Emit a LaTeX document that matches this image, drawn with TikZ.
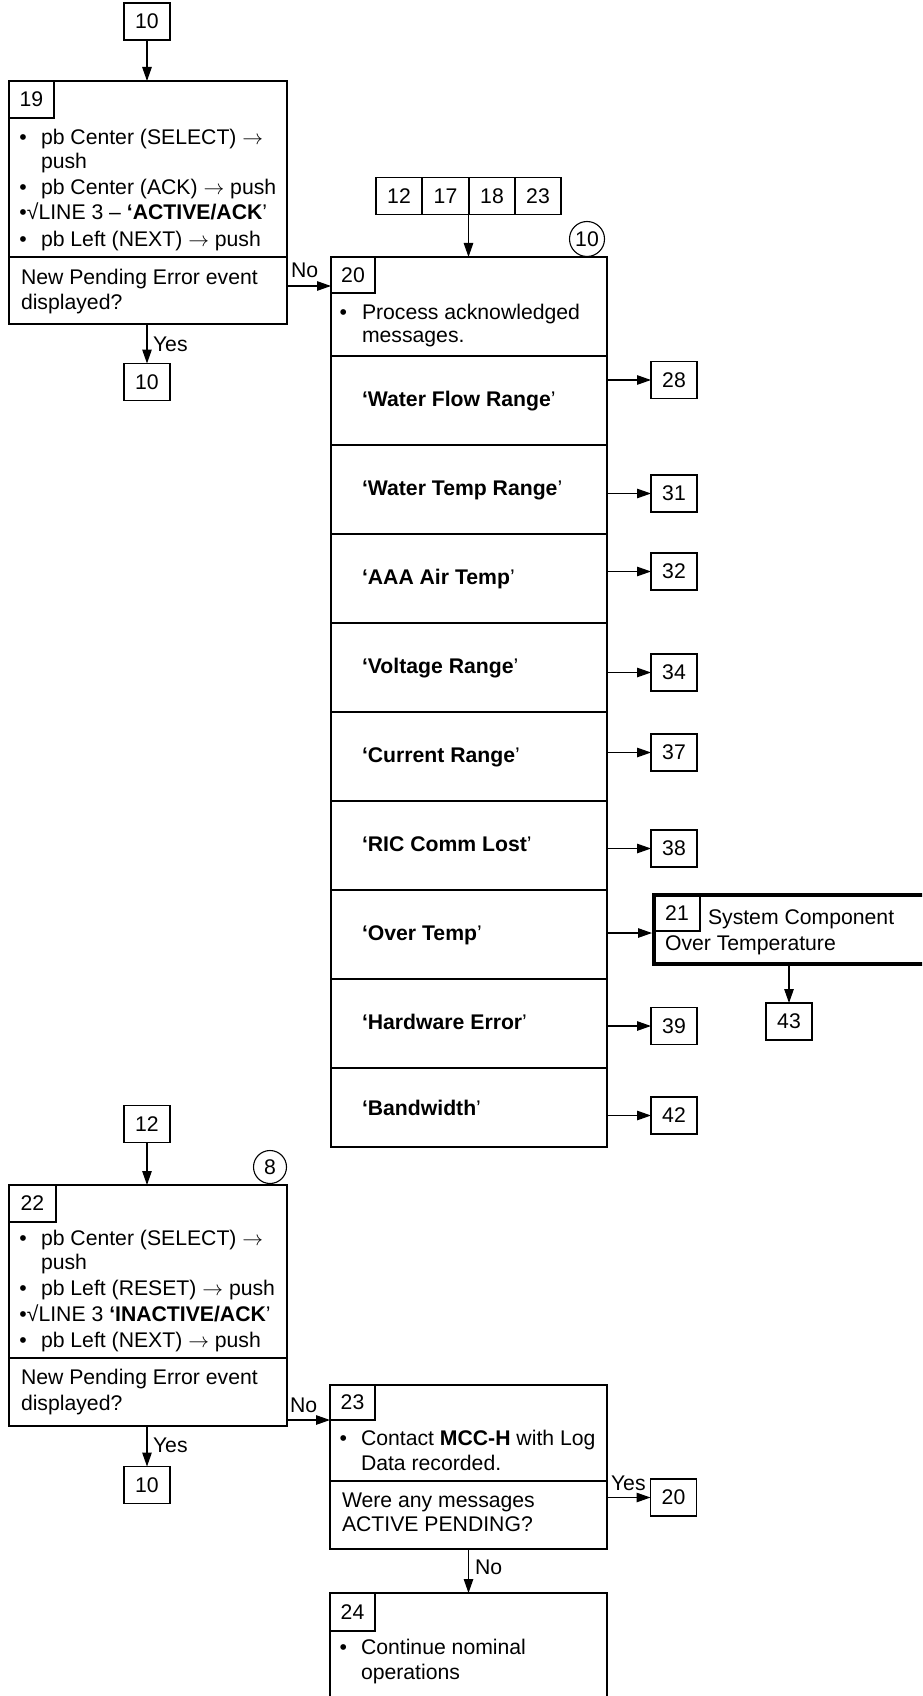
\documentclass[tikz,border=0pt]{standalone}
\usepackage{fontspec}
\setmainfont{Liberation Sans}
\usetikzlibrary{arrows.meta}
\begin{document}
\begin{tikzpicture}[x=1pt,y=-1pt,
  every node/.style={font=\fontsize{21.2}{25}\selectfont, inner sep=0pt, outer sep=0pt},
  bigbox/.style={draw, line width=1.4pt, anchor=north west},
  numbox/.style={draw, line width=1.1pt, anchor=north west},
  tgt/.style={draw, line width=1.1pt, minimum width=46pt, minimum height=37pt},
  txt/.style={anchor=mid west, yshift=-5pt},
  lbl/.style={anchor=mid west, yshift=-5pt},
  arr/.style={line width=1.2pt, -{Triangle[length=14pt,width=9.5pt]}},
  sep/.style={line width=1.3pt},
  circ/.style={draw, circle, line width=1.1pt, minimum size=35pt},
]
\useasboundingbox (0,0) rectangle (922,1696);
\begin{scope}
\clip (0,0) rectangle (922,1696);

% ---------- top-left block (19) ----------
\node[tgt] (n10a) at (147,21.5) {10};
\node[bigbox, minimum width=278pt, minimum height=243pt] (b19) at (9,81) {};
\node[numbox, minimum width=45pt, minimum height=37pt] (n19) at (9,81) {19};
\draw[sep] (9,257) -- (287,257);
\node[txt] (b19d1) at (19.5,137) {•};
\node[txt] (b19t1) at (41,137) {pb Center (SELECT) $\rightarrow$};
\node[txt] (b19t2) at (41,161) {push};
\node[txt] (b19d3) at (19.5,187) {•};
\node[txt] (b19t3) at (41,187) {pb Center (ACK) $\rightarrow$ push};
\node[txt] (b19t4) at (19.5,212) {•√LINE 3 – \textbf{‘ACTIVE/ACK}’};
\node[txt] (b19d5) at (19.5,239) {•};
\node[txt] (b19t5) at (41,239) {pb Left (NEXT) $\rightarrow$ push};
\node[txt] (b19q1) at (21,277) {New Pending Error event};
\node[txt] (b19q2) at (21,302) {displayed?};
\node[tgt] (n10b) at (147,382) {10};
\draw[arr] (n10a.south) -- (n10a.south |- b19.north);
\draw[arr] (n10b.north |- b19.south) -- (n10b.north);
\node[lbl] (y19) at (153,344) {Yes};
\coordinate (no19) at (287,286);
\node[lbl] (l19) at (291,270) {No};

% ---------- main block (20) ----------
\node[tgt] (s12) at (399,196) {12};
\node[tgt] (s17) at (445.5,196) {17};
\node[tgt] (s18) at (492,196) {18};
\node[tgt] (s23) at (538,196) {23};
\node[circ] (c10) at (587,239) {10};
\node[bigbox, minimum width=276pt, minimum height=890pt] (b20) at (331,257) {};
\node[numbox, minimum width=44pt, minimum height=36pt] (n20) at (331,257) {20};
\draw[arr] (s17.south east) -- (s17.south east |- b20.north);
\draw[arr] (no19) -- (no19 -| b20.west);
\node[txt] (b20d1) at (339.5,312) {•};
\node[txt] (b20t1) at (362,312) {Process acknowledged};
\node[txt] (b20t2) at (362,335) {messages.};
\foreach \yy in {356,445,534,623,712,801,890,979,1068}
  \draw[sep] (331,\yy) -- (607,\yy);
\node[txt] (r1) at (362,398.5) {\textbf{‘Water Flow Range}’};
\node[txt] (r2) at (362,487.5) {\textbf{‘Water Temp Range}’};
\node[txt] (r3) at (362,576.5) {\textbf{‘AAA Air Temp}’};
\node[txt] (r4) at (362,665.5) {\textbf{‘Voltage Range}’};
\node[txt] (r5) at (362,754.5) {\textbf{‘Current Range}’};
\node[txt] (r6) at (362,843.5) {\textbf{‘RIC Comm Lost}’};
\node[txt] (r7) at (362,932.5) {\textbf{‘Over Temp}’};
\node[txt] (r8) at (362,1021.5) {\textbf{‘Hardware Error}’};
\node[txt] (r9) at (362,1107.5) {\textbf{‘Bandwidth}’};

\node[tgt] (t28) at (674,380) {28};
\node[tgt] (t31) at (674,493.5) {31};
\node[tgt] (t32) at (674,571.5) {32};
\node[tgt] (t34) at (674,672.5) {34};
\node[tgt] (t37) at (674,752.5) {37};
\node[tgt] (t38) at (674,848.5) {38};
\node[tgt] (t39) at (674,1026) {39};
\node[tgt] (t42) at (674,1115.5) {42};
\foreach \t in {t28,t31,t32,t34,t37,t38,t39,t42}
  \draw[arr] (b20.east |- \t) -- (\t.west);

% box 21
\node[draw, line width=4pt, anchor=north west, minimum width=300pt, minimum height=69pt] (b21) at (654,894.5) {};
\node[numbox, minimum width=46pt, minimum height=36.5pt] (n21) at (654,894.5) {21};
\node[txt] (b21t1) at (708,917) {System Component};
\node[txt] (b21t2) at (665,943) {Over Temperature};
\draw[arr] (b20.east |- 0,933) -- (652,933);
\node[tgt] (t43) at (789,1021.5) {43};
\draw[arr] (t43.north |- b21.south) -- (t43.north);

% ---------- bottom-left block (22) ----------
\node[tgt] (n12) at (147,1124) {12};
\node[circ, minimum size=33pt] (c8) at (270,1167) {8};
\node[bigbox, minimum width=278pt, minimum height=241pt] (b22) at (9,1185) {};
\node[numbox, minimum width=47pt, minimum height=37pt] (n22) at (9,1185) {22};
\draw[arr] (n12.south) -- (n12.south |- b22.north);
\draw[sep] (9,1358) -- (287,1358);
\node[txt] (b22d1) at (19.5,1238) {•};
\node[txt] (b22t1) at (41,1238) {pb Center (SELECT) $\rightarrow$};
\node[txt] (b22t2) at (41,1262) {push};
\node[txt] (b22d3) at (19.5,1288) {•};
\node[txt] (b22t3) at (41,1288) {pb Left (RESET) $\rightarrow$ push};
\node[txt] (b22t4) at (19.5,1314) {•√LINE 3 \textbf{‘INACTIVE/ACK}’};
\node[txt] (b22d5) at (19.5,1340) {•};
\node[txt] (b22t5) at (41,1340) {pb Left (NEXT) $\rightarrow$ push};
\node[txt] (b22q1) at (21,1377) {New Pending Error event};
\node[txt] (b22q2) at (21,1403) {displayed?};
\node[tgt] (n10c) at (147,1485) {10};
\draw[arr] (n10c.north |- b22.south) -- (n10c.north);
\node[lbl] (y22) at (153,1445) {Yes};
\node[lbl] (l22) at (290,1405) {No};

% ---------- block 23 ----------
\node[bigbox, minimum width=277pt, minimum height=164pt] (b23) at (330,1385) {};
\node[numbox, minimum width=45pt, minimum height=35pt] (n23) at (330,1385) {23};
\draw[arr] (b22.east |- n23.south) -- (n23.south west);
\node[txt] (b23d1) at (339.5,1438) {•};
\node[txt] (b23t1) at (361,1438) {Contact \textbf{MCC-H} with Log};
\node[txt] (b23t2) at (361,1463) {Data recorded.};
\draw[sep] (330,1481) -- (607,1481);
\node[txt] (b23q1) at (342,1500) {Were any messages};
\node[txt] (b23q2) at (342,1524) {ACTIVE PENDING?};
\node[tgt] (r20) at (673.5,1497.5) {20};
\draw[arr] (b23.east |- r20) -- (r20.west);
\node[lbl] (y23) at (611,1483) {Yes};

% ---------- block 24 ----------
\node[bigbox, minimum width=277pt, minimum height=140pt] (b24) at (330,1593) {};
\node[numbox, minimum width=45pt, minimum height=38pt] (n24) at (330,1593) {24};
\draw[arr] (b23.south) -- (b24.north);
\node[lbl] (l23) at (475,1567) {No};
\node[txt] (b24d1) at (339.5,1647) {•};
\node[txt] (b24t1) at (361,1647) {Continue nominal};
\node[txt] (b24t2) at (361,1672) {operations};
\end{scope}
\end{tikzpicture}
\end{document}
